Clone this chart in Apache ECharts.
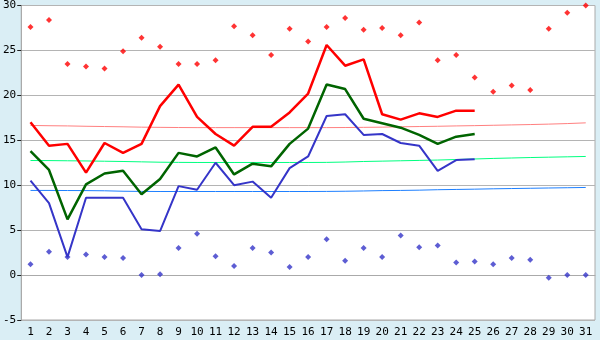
<!DOCTYPE html>
<html><head><meta charset="utf-8">
<script src="https://cdn.jsdelivr.net/npm/echarts@6/dist/echarts.min.js"></script>
<style>html,body{margin:0;padding:0;background:#daeef5;}#c{width:600px;height:340px;}</style>
</head><body><div id="c"></div>
<script>
const days = Array.from({length:31},(_,i)=>String(i+1));
const maxLine = [17.0,14.4,14.6,11.4,14.7,13.6,14.6,18.8,21.2,17.6,15.7,14.4,16.5,16.5,18.1,20.2,25.6,23.3,24.0,17.9,17.3,18.0,17.6,18.3,18.3];
const meanLine = [13.8,11.7,6.2,10.1,11.3,11.6,9.0,10.7,13.6,13.2,14.2,11.2,12.4,12.1,14.6,16.3,21.2,20.7,17.4,16.9,16.4,15.6,14.6,15.4,15.7];
const minLine = [10.5,8.0,2.0,8.6,8.6,8.6,5.1,4.9,9.9,9.5,12.5,10.0,10.4,8.6,11.9,13.2,17.7,17.9,15.6,15.7,14.7,14.4,11.6,12.8,12.9];
const maxPts = [27.6,28.4,23.5,23.2,23.0,24.9,26.4,25.4,23.5,23.5,23.9,27.7,26.7,24.5,27.4,26.0,27.6,28.6,27.3,27.5,26.7,28.1,23.9,24.5,22.0,20.4,21.1,20.6,27.4,29.2,30.0];
const minPts = [1.2,2.6,2.0,2.3,2.0,1.9,0.0,0.1,3.0,4.6,2.1,1.0,3.0,2.5,0.9,2.0,4.0,1.6,3.0,2.0,4.4,3.1,3.3,1.4,1.5,1.2,1.9,1.7,-0.3,0.0,0.0];
const normMax = [16.65,16.62,16.6,16.56,16.53,16.5,16.46,16.44,16.42,16.41,16.41,16.41,16.41,16.41,16.41,16.41,16.41,16.42,16.44,16.46,16.5,16.53,16.56,16.6,16.63,16.67,16.71,16.75,16.8,16.86,16.94];
const normMean = [12.75,12.74,12.72,12.7,12.67,12.64,12.6,12.56,12.54,12.53,12.53,12.53,12.53,12.53,12.53,12.53,12.54,12.58,12.64,12.68,12.72,12.76,12.8,12.86,12.92,12.98,13.03,13.08,13.12,13.16,13.2];
const normMin = [9.42,9.42,9.41,9.4,9.38,9.33,9.31,9.3,9.3,9.3,9.3,9.3,9.3,9.3,9.3,9.3,9.31,9.33,9.36,9.4,9.42,9.45,9.5,9.53,9.56,9.6,9.63,9.66,9.69,9.72,9.75];
const yTicks = {min:-5, max:30, interval:5};

const lab = {fontFamily:'DejaVu Sans Mono', fontSize:11, color:'#000'};
const chart = echarts.init(document.getElementById('c'), null, {renderer:'canvas'});
const line = (data,color,w,z)=>({type:'line',data,symbol:'none',lineStyle:{color,width:w},itemStyle:{color},z,animation:false});
const pts = (data,color)=>({type:'scatter',data,symbol:'diamond',symbolSize:6,itemStyle:{color},z:5,animation:false});
chart.setOption({
  animation:false,
  backgroundColor:'#daeef5',
  grid:{left:20,right:5,top:5,bottom:20,show:true,backgroundColor:'#fff',borderColor:'#aaa',borderWidth:1},
  xAxis:{type:'category',data:days,boundaryGap:true,
    axisLine:{lineStyle:{color:'#aaa'}},
    axisTick:{alignWithLabel:true,length:5,lineStyle:{color:'#222'}},
    axisLabel:Object.assign({margin:7,interval:0},lab),splitLine:{show:false}},
  yAxis:{type:'value',min:yTicks.min,max:yTicks.max,interval:yTicks.interval,
    axisLine:{show:true,lineStyle:{color:'#aaa'}},
    axisTick:{show:true,length:4,lineStyle:{color:'#222'}},
    axisLabel:Object.assign({margin:5},lab),
    splitLine:{lineStyle:{color:'#b4b4b4',width:1}}},
  series:[
    line(normMax,'#ff8080',1,2),
    line(normMean,'#00ff80',1,2),
    line(normMin,'#1e80ff',1,2),
    line(maxLine,'#ff0000',2.5,3),
    line(meanLine,'#006400',2.5,3),
    line(minLine,'#3535c8',2,3),
    pts(maxPts,'#ff0000'),
    pts(minPts,'#3535c8')
  ]
});
</script></body></html>
